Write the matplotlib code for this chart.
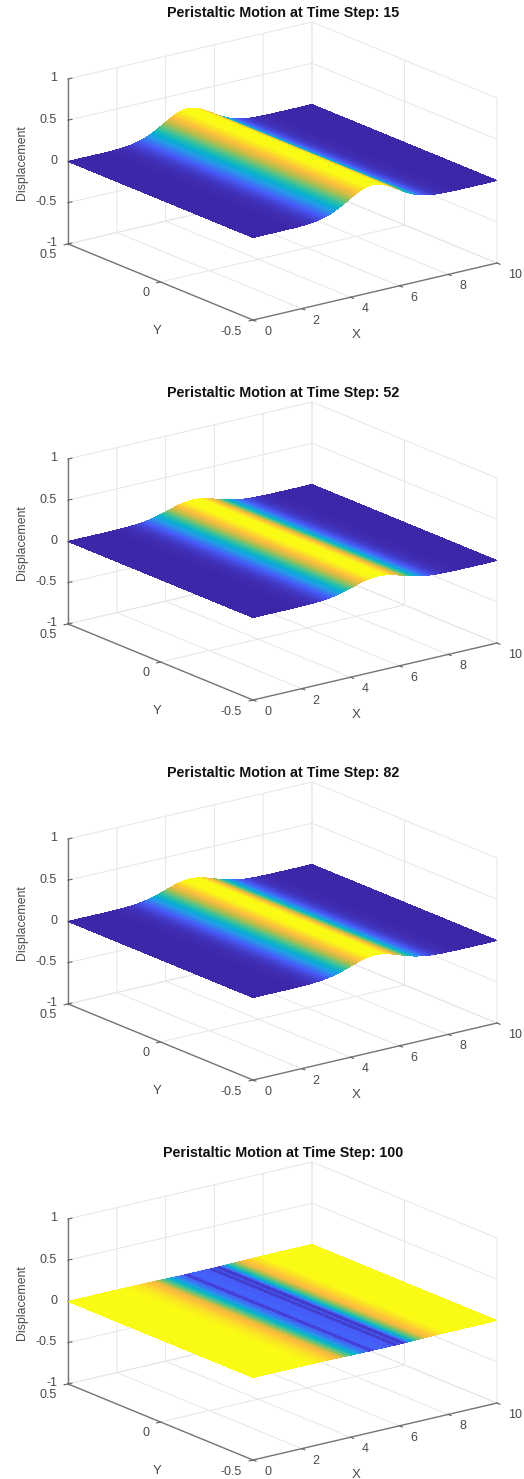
import numpy as np
import matplotlib
matplotlib.use('Agg')
import matplotlib.pyplot as plt
from matplotlib.colors import LinearSegmentedColormap
from mpl_toolkits.mplot3d import proj3d

plt.rcParams['font.family'] = ['Liberation Sans', 'DejaVu Sans']

time_steps = [15, 52, 82, 100]
x_ticks = [0, 2, 4, 6, 8, 10]
y_ticks = [-0.5, 0, 0.5]
z_ticks = [-1, -0.5, 0, 0.5, 1]
x_labels = ['0', '2', '4', '6', '8', '10']
y_labels = ['-0.5', '0', '0.5']
z_labels = ['-1', '-0.5', '0', '0.5', '1']

# read along x = 0, 0.1, ... 10
disp_15 = [0]*14 + [
    .001, .001, .001, .002, .002, .003, .005, .006, .008, .010,
    .013, .017, .021, .027, .033, .041, .049, .059, .071, .083,
    .098, .113, .129, .146, .164, .182, .200, .218, .235, .251,
    .265, .277, .287, .294, .299, .300, .299, .294, .287, .277,
    .265, .251, .235, .218, .200, .182, .164, .146, .129, .113,
    .098, .083, .071, .059, .049, .041, .033, .027, .021, .017,
    .013, .010, .008, .006, .005, .003, .002, .002, .001, .001,
    .001] + [0]*16

disp_52 = [0]*18 + [
    .001, .001, .001, .002, .002, .003, .004, .005, .007, .008,
    .011, .013, .017, .020, .025, .030, .035, .042, .049, .056,
    .065, .073, .082, .091, .100, .109, .117, .125, .132, .138,
    .143, .147, .149, .150, .149, .147, .143, .138, .132, .125,
    .117, .109, .100, .091, .082, .073, .065, .056, .049, .042,
    .035, .030, .025, .020, .017, .013, .011, .008, .007, .005,
    .004, .003, .002, .002, .001, .001, .001] + [0]*16

disp_82 = [0]*17 + [
    .001, .001, .001, .002, .003, .003, .004, .006, .007, .010,
    .012, .015, .019, .023, .028, .034, .040, .047, .055, .064,
    .073, .083, .093, .103, .113, .123, .133, .142, .150, .157,
    .163, .167, .169, .170, .169, .167, .163, .157, .150, .142,
    .133, .123, .113, .103, .093, .083, .073, .064, .055, .047,
    .040, .034, .028, .023, .019, .015, .012, .010, .007, .006,
    .004, .003, .003, .002, .001, .001, .001] + [0]*17

# very small dip, this one is in units of 1e-3
disp_100 = [0]*23 + [
    -.3, -.4, -.5, -.6, -.7, -.8, -1.0, -1.2, -1.4, -1.6,
    -1.8, -2.0, -2.4, -2.9, -3.8, -4.3, -4.7, -5.4, -5.9, -6.4,
    -7.0, -7.5, -7.8, -8.0, -8.3, -9.4, -8.5, -8.2, -8.2, -8.2,
    -8.2, -8.3, -8.3, -8.3, -8.3, -9.5, -8.6, -8.4, -9.6, -8.6,
    -7.8, -6.7, -5.7, -5.0, -4.4, -3.9, -3.1, -2.5, -2.0, -1.8,
    -1.6, -1.3, -1.1, -.9, -.7, -.5, -.3] + [0]*21
all_disp = [disp_15, disp_52, disp_82, np.array(disp_100)*1e-3]

x_grid = np.linspace(0, 10, 101)
y_grid = [-0.5, 0.5]

parula = LinearSegmentedColormap.from_list('parula', [
    (0.00, (.2422, .1504, .6603)),
    (0.13, (.2780, .3556, .9777)),
    (0.25, (.1540, .5902, .9218)),
    (0.36, (.0265, .6937, .8135)),
    (0.46, (.1801, .7477, .6424)),
    (0.56, (.4500, .7650, .4500)),
    (0.66, (.7500, .7400, .2800)),
    (0.80, (.9900, .7400, .2400)),
    (0.97, (.9769, .9839, .0805)),
    (1.00, (.9769, .9839, .0805)),
], N=256)

gray = '#4a4a4a'
fig = plt.figure(figsize=(5.24, 14.79), dpi=100)


def place(ax, left, right, top):
    # move the axes so the box lands on these pixel positions
    M = ax.get_proj()
    a = proj3d.proj_transform(0, 0.5, -1, M)[:2]
    c = proj3d.proj_transform(10, -0.5, -1, M)[:2]
    d = proj3d.proj_transform(10, 0.5, 1, M)[:2]
    pa, pc, pd = ax.transData.transform([a, c, d])
    pos = ax.get_position()
    k = (right - left) / (pc[0] - pa[0])
    w = pos.width * fig.bbox.width * k
    x0 = pos.x0 * fig.bbox.width
    y0 = pos.y0 * fig.bbox.height
    new_x0 = left - (pa[0] - x0) * k
    new_y0 = (fig.bbox.height - top) - (pd[1] - y0) * k
    ax.set_position([new_x0 / fig.bbox.width, new_y0 / fig.bbox.height,
                     w / fig.bbox.width, w / fig.bbox.height])


def label3d(ax, s, xyz, dx, dy, **kw):
    # text pinned to a 3d point, with an offset in pixels
    p = proj3d.proj_transform(*xyz, ax.get_proj())[:2]
    ax.annotate(s, xy=p, xycoords='data', xytext=(dx, dy), textcoords='offset pixels',
                color=gray, va='center', annotation_clip=False, **kw)


for i, (step, disp) in enumerate(zip(time_steps, all_disp)):
    off = 380 * i
    ax = fig.add_axes([0.1, 0.1, 0.8, 0.8 * 524 / 1479], projection='3d', proj_type='ortho')
    ax.view_init(elev=18.05, azim=-127)
    ax.set_box_aspect((305.5, 307.4, 173.5))
    ax.patch.set_alpha(0)

    X, Y = np.meshgrid(x_grid, y_grid)
    Z = np.array([disp, disp], dtype=float)
    ax.plot_surface(X, Y, Z, cmap=parula, vmin=Z.min(), vmax=Z.max(), rstride=1, cstride=1,
                    linewidth=0, antialiased=False, shade=False)

    ax.set_xlim(0, 10, view_margin=0)
    ax.set_ylim(-0.5, 0.5, view_margin=0)
    ax.set_zlim(-1, 1, view_margin=0)
    ax.set_xticks(x_ticks)
    ax.set_yticks(y_ticks)
    ax.set_zticks(z_ticks)
    ax.set_xticklabels([])
    ax.set_yticklabels([])
    ax.set_zticklabels([])
    ax.tick_params(colors='#606060', width=0.7)

    for axis in (ax.xaxis, ax.yaxis, ax.zaxis):
        axis.set_pane_color((1, 1, 1, 0))
        axis.pane.set_edgecolor('#e8e8e8')
        axis.line.set_color('#767676')
        axis.line.set_linewidth(1.0)
        axis._axinfo['grid'].update(color='#e6e6e6', linewidth=0.7)
    ax.xaxis._axinfo['tick'].update(inward_factor=0.2, outward_factor=0.0)
    ax.yaxis._axinfo['tick'].update(inward_factor=0.2, outward_factor=0.0)
    ax.zaxis._axinfo['tick'].update(inward_factor=0.0, outward_factor=0.2)

    place(ax, 68, 497, 22 + off)

    for t, s in zip(x_ticks, x_labels):
        label3d(ax, s, (t, -0.5, -1), 11, -12, ha='left', fontsize=9)
    for t, s in zip(y_ticks, y_labels):
        label3d(ax, s, (0, t, -1), -11, -11.5, ha='right', fontsize=9)
    for t, s in zip(z_ticks, z_labels):
        label3d(ax, s, (0, 0.5, t), -11, 0.5, ha='right', fontsize=9)
    label3d(ax, 'X', (5, -0.5, -1), -19, -43.5, ha='center', fontsize=9.5)
    label3d(ax, 'Y', (0, 0, -1), -3.5, -49, ha='center', fontsize=9.5)
    label3d(ax, 'Displacement', (0, 0.5, 0), -46, -1, ha='center', rotation=90, fontsize=8.8)

    fig.text(283 / 524, 1 - (13 + off) / 1479, 'Peristaltic Motion at Time Step: %d' % step,
             ha='center', va='center', fontsize=10.3, fontweight='bold', color='#111111')

fig.savefig('out.png', dpi=100)
